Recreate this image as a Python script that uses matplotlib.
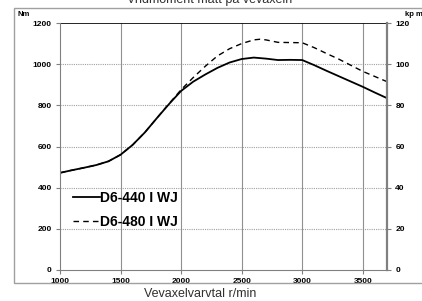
import matplotlib
matplotlib.use('Agg')
import matplotlib.pyplot as plt
from matplotlib.patches import Rectangle

plt.rcParams['font.family'] = ['Liberation Sans', 'DejaVu Sans']

# Varvtal (r/min) och vridmoment (Nm)
rpm_440 = [1000, 1100, 1200, 1300, 1400, 1500, 1600, 1700, 1800, 1900, 2000, 2100, 2200, 2300,
           2400, 2500, 2600, 2700, 2800, 2900, 3000, 3100, 3200, 3300, 3400, 3500, 3600, 3700]
nm_440 = [472, 485, 497, 510, 528, 560, 608, 668, 738, 806, 870, 915, 950, 982,
          1008, 1025, 1032, 1027, 1020, 1021, 1020, 995, 968, 942, 916, 890, 862, 835]

rpm_480 = [1000, 1100, 1200, 1300, 1400, 1500, 1600, 1700, 1800, 1900, 2000, 2100, 2200, 2300,
           2400, 2500, 2600, 2650, 2700, 2800, 2900, 3000, 3100, 3200, 3300, 3400, 3500, 3600, 3700]
nm_480 = [472, 485, 497, 510, 528, 560, 608, 668, 738, 808, 876, 935, 990, 1040,
          1075, 1100, 1118, 1121, 1118, 1106, 1105, 1104, 1080, 1052, 1025, 995, 965, 940, 915]

x_ticks = [1000, 1500, 2000, 2500, 3000, 3500]
nm_ticks = [0, 200, 400, 600, 800, 1000, 1200]
kpm_ticks = [0, 20, 40, 60, 80, 100, 120]

fig = plt.figure(figsize=(4.22, 3.01), dpi=100)
ax = fig.add_axes([60/422, 31/301, 327/422, 247/301])

# yttre ram
fig.patches.append(Rectangle((14/422, 18/301), 1.2, 275/301, transform=fig.transFigure,
                             fill=False, edgecolor='#a0a0a0', linewidth=1.0))

ax.plot(rpm_440, nm_440, color='black', linewidth=1.3, linestyle='-', label='D6-440 I WJ')
ax.plot(rpm_480, nm_480, color='black', linewidth=1.0, linestyle=(0, (4, 3)), label='D6-480 I WJ')

ax.set_xlim(1000, 3700)
ax.set_ylim(0, 1200)
ax.set_xticks(x_ticks)
ax.set_yticks(nm_ticks)
ax.tick_params(labelsize=6, length=3, color='#808080', pad=3)
for lbl in ax.get_xticklabels() + ax.get_yticklabels():
    lbl.set_fontweight('bold')

# rutnät
for yv in nm_ticks[1:-1]:
    ax.axhline(yv, color='#a0a0a0', linewidth=0.8, linestyle=(0, (1, 1)), zorder=0)
for xv in x_ticks[1:]:
    ax.axvline(xv, color='#909090', linewidth=0.8, zorder=0)
ax.axhline(1200, color='black', linewidth=1.2)

for s in ['left', 'bottom']:
    ax.spines[s].set_color('#808080')
ax.spines['top'].set_visible(False)
ax.spines['right'].set_visible(False)

ax2 = ax.twinx()
ax2.set_ylim(0, 120)
ax2.set_yticks(kpm_ticks)
ax2.tick_params(labelsize=6, length=3, color='#808080', pad=3)
for lbl in ax2.get_yticklabels():
    lbl.set_fontweight('bold')
ax2.spines['right'].set_color('#808080')
ax2.spines['right'].set_linewidth(1.6)
for s in ['left', 'top', 'bottom']:
    ax2.spines[s].set_visible(False)

leg = ax.legend(loc='lower left', bbox_to_anchor=(0.0, 0.115), frameon=False,
                prop={'weight': 'bold', 'size': 10}, handlelength=2.0,
                handletextpad=0.0, labelspacing=0.75)

fig.text(18/422, 1 - 16/301, 'Nm', fontsize=5.5, fontweight='bold')
fig.text(405/422, 1 - 16/301, 'kp m', fontsize=5.5, fontweight='bold')
fig.text(210/422, 1 + 1/301, 'Vridmoment mätt på vevaxeln', fontsize=9,
         ha='center', va='center', color='#303030')
fig.text(200/422, 1 - 294/301, 'Vevaxelvarvtal r/min', fontsize=9,
         ha='center', va='center', color='#303030')

fig.savefig('out.png', dpi=100)
